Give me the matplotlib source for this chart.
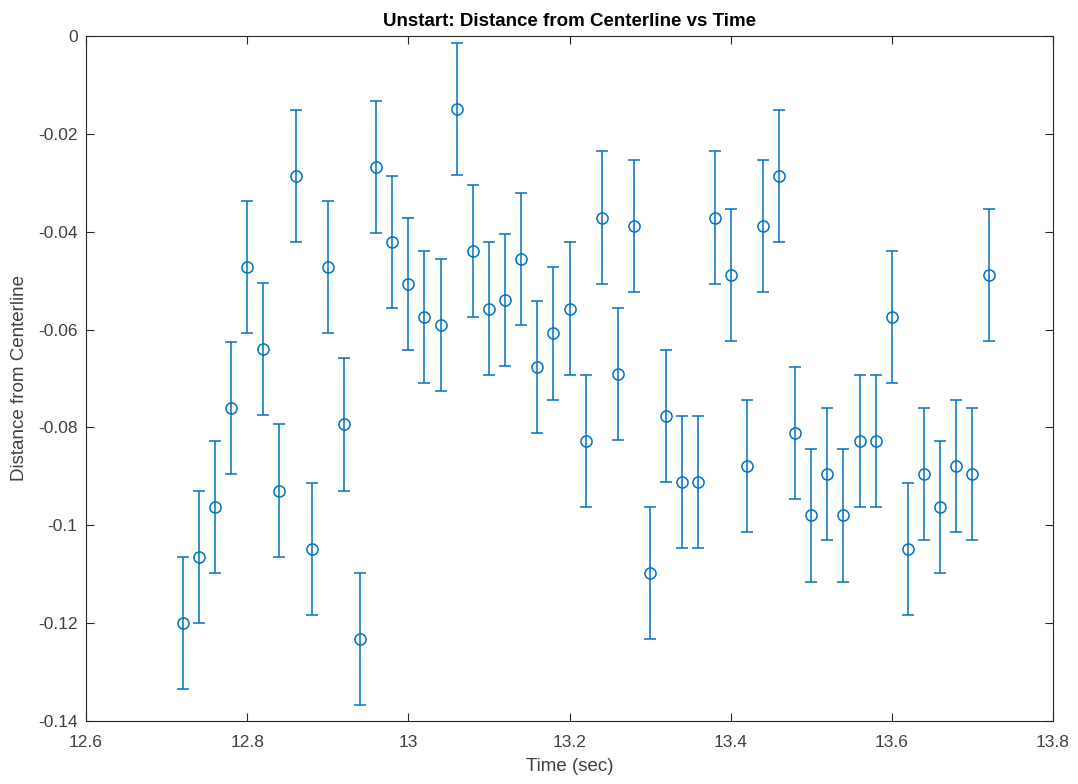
import matplotlib
matplotlib.use("Agg")
import matplotlib.pyplot as plt
import numpy as np

plt.rcParams["font.family"] = ["Liberation Sans", "DejaVu Sans"]
plt.rcParams["axes.unicode_minus"] = False

# Sample times (s) and measured distance from centerline
time_sec = [12.72, 12.74, 12.76, 12.78, 12.80, 12.82, 12.84, 12.86, 12.88, 12.90,
            12.92, 12.94, 12.96, 12.98, 13.00, 13.02, 13.04, 13.06, 13.08, 13.10,
            13.12, 13.14, 13.16, 13.18, 13.20, 13.22, 13.24, 13.26, 13.28, 13.30,
            13.32, 13.34, 13.36, 13.38, 13.40, 13.42, 13.44, 13.46, 13.48, 13.50,
            13.52, 13.54, 13.56, 13.58, 13.60, 13.62, 13.64, 13.66, 13.68, 13.70,
            13.72]
distance = [-0.1200, -0.1065, -0.0963, -0.0760, -0.0472, -0.0640, -0.0929, -0.0286, -0.1048, -0.0472,
            -0.0794, -0.1233, -0.0268, -0.0421, -0.0506, -0.0574, -0.0591, -0.0150, -0.0439, -0.0557,
            -0.0540, -0.0455, -0.0676, -0.0608, -0.0557, -0.0828, -0.0371, -0.0691, -0.0388, -0.1098,
            -0.0777, -0.0912, -0.0912, -0.0371, -0.0489, -0.0879, -0.0388, -0.0286, -0.0811, -0.0980,
            -0.0896, -0.0980, -0.0828, -0.0828, -0.0574, -0.1048, -0.0896, -0.0963, -0.0879, -0.0896,
            -0.0489]
uncertainty = [0.0135] * len(time_sec)

x_ticks = [12.6, 12.8, 13.0, 13.2, 13.4, 13.6, 13.8]
x_tick_labels = ["12.6", "12.8", "13", "13.2", "13.4", "13.6", "13.8"]
y_ticks = [-0.14, -0.12, -0.10, -0.08, -0.06, -0.04, -0.02, 0.0]
y_tick_labels = ["-0.14", "-0.12", "-0.1", "-0.08", "-0.06", "-0.04", "-0.02", "0"]

blue = "#0072BD"
ink = "#262626"
label_ink = "#404040"

fig = plt.figure(figsize=(10.78, 7.84), dpi=100)
ax = fig.add_axes([0.0798, 0.0804, 0.8970, 0.8737])

ax.errorbar(time_sec, distance, yerr=uncertainty, fmt="o", color=blue,
            markerfacecolor="none", markeredgecolor=blue, markersize=8,
            markeredgewidth=1.1, elinewidth=1.1, capsize=4.3, capthick=1.1)

ax.set_xlim(12.6, 13.8)
ax.set_ylim(-0.14, 0.0)
ax.set_xticks(x_ticks)
ax.set_xticklabels(x_tick_labels)
ax.set_yticks(y_ticks)
ax.set_yticklabels(y_tick_labels)

ax.tick_params(direction="in", top=True, right=True, length=6, width=0.8,
               colors=ink, labelcolor=label_ink, labelsize=12.5)
ax.tick_params(axis="x", pad=10)
ax.tick_params(axis="y", pad=6)
for spine in ax.spines.values():
    spine.set_color(ink)
    spine.set_linewidth(0.8)

ax.set_title("Unstart: Distance from Centerline vs Time", fontsize=13.5,
             fontweight="bold", color="black", pad=7)
ax.set_xlabel("Time (sec)", fontsize=13.5, color=label_ink, labelpad=6)
ax.set_ylabel("Distance from Centerline", fontsize=13.5, color=label_ink, labelpad=7)

fig.savefig("out.png", dpi=100)
